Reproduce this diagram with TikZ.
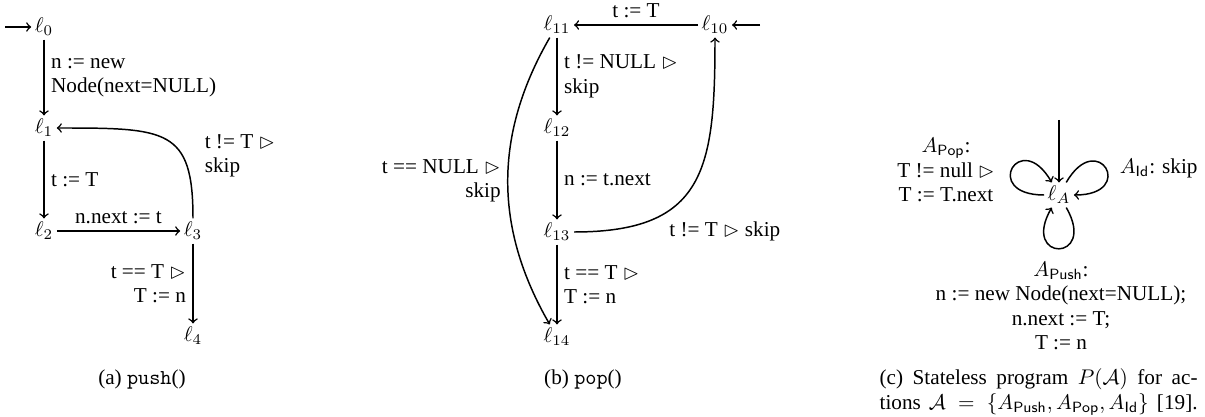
\documentclass[tikz,border=0pt]{standalone}
\usepackage{amssymb}
\usepackage{fontspec}
\setmainfont{Liberation Serif}
\begin{document}
\begin{tikzpicture}[x=0.4717pt,y=0.4717pt,>=to,
  st/.style={inner sep=1.5pt,font=\fontsize{10}{12}\selectfont},
  lab/.style={inner sep=3pt,font=\fontsize{10}{11.5}\selectfont},
  ar/.style={->,line width=0.7pt},
  selfloop/.style={->,line width=0.7pt,looseness=1,min distance=10.5mm}]
\useasboundingbox (0,0) rectangle (1205,-417);
% ---------- (a) push ----------
\node[st] (l0) at (44,-27) {$\ell_0$};
\node[st] (l1) at (44,-128) {$\ell_1$};
\node[st] (l2) at (44,-231) {$\ell_2$};
\node[st] (l3) at (193,-231) {$\ell_3$};
\node[st] (l4) at (193,-336) {$\ell_4$};
\coordinate (ina) at (5,-27);
\draw[ar] (ina) -- (l0);
\draw[ar] (l0) -- node[lab,right,align=left] {n := new\\Node(next=NULL)} (l1);
\draw[ar] (l1) -- node[lab,right] {t := T} (l2);
\draw[ar] (l2) -- node[lab,above] {n.next := t} (l3);
\draw[ar] (l3.north) .. controls +(0,90) and +(110,0) .. (l1.east);
\node[lab,anchor=west,align=left] (la31) at (198,-156) {t != T $\rhd$\\skip};
\draw[ar] (l3) -- node[lab,left,align=right] {t == T $\rhd$\\T := n} (l4);
\node[st] (capa) at (142,-379) {(a) \texttt{push}()};
% ---------- (b) pop ----------
\node[st] (l11) at (557,-25) {$\ell_{11}$};
\node[st] (l10) at (715,-25) {$\ell_{10}$};
\node[st] (l12) at (557,-128) {$\ell_{12}$};
\node[st] (l13) at (557,-232) {$\ell_{13}$};
\node[st] (l14) at (557,-337) {$\ell_{14}$};
\coordinate (inb) at (760,-25);
\draw[ar] (inb) -- (l10);
\draw[ar] (l10) -- node[lab,above] {t := T} (l11);
\draw[ar] (l11) -- node[lab,right,align=left] {t != NULL $\rhd$\\skip} (l12);
\draw[ar] (l12) -- node[lab,right] {n := t.next} (l13);
\draw[ar] (l13) -- node[lab,right,align=left] {t == T $\rhd$\\T := n} (l14);
\draw[ar] (l11) to[bend right=30] node[lab,left,align=right] {t == NULL $\rhd$\\skip} (l14);
\draw[ar] (l13.east) to[out=0,in=-90,looseness=1.4] node[lab,pos=0.3,anchor=north west] {t != T $\rhd$ skip} (l10.south);
\node[st] (capb) at (583,-379) {(b) \texttt{pop}()};
% ---------- (c) stateless ----------
\node[st] (lA) at (1059,-195) {$\ell_A$};
\coordinate (inc) at (1059,-120);
\draw[ar] (inc) -- (lA);
\draw[selfloop] (lA) to[out=180,in=120] (lA);
\draw[selfloop] (lA) to[out=60,in=0] (lA);
\draw[selfloop] (lA) to[out=-60,in=-120] (lA);
\node[lab,align=center] (pop) at (946,-170) {$A_{\mathsf{Pop}}$:\\T != null $\rhd$\\T := T.next};
\node[lab,anchor=west] (idl) at (1113,-168) {$A_{\mathsf{Id}}$: skip};
\node[lab,align=center,anchor=north] (push) at (1061,-255) {$A_{\mathsf{Push}}$:\\n := new Node(next=NULL);\\n.next := T;\\T := n};
\node[st,anchor=west,align=left] (capc) at (876,-392) {\makebox[150pt][s]{(c) Stateless program $P(\mathcal{A})$ for ac-}\\\makebox[150pt][s]{tions $\mathcal{A}=\{A_{\mathsf{Push}},A_{\mathsf{Pop}},A_{\mathsf{Id}}\}$ [19].}};
\end{tikzpicture}
\end{document}
